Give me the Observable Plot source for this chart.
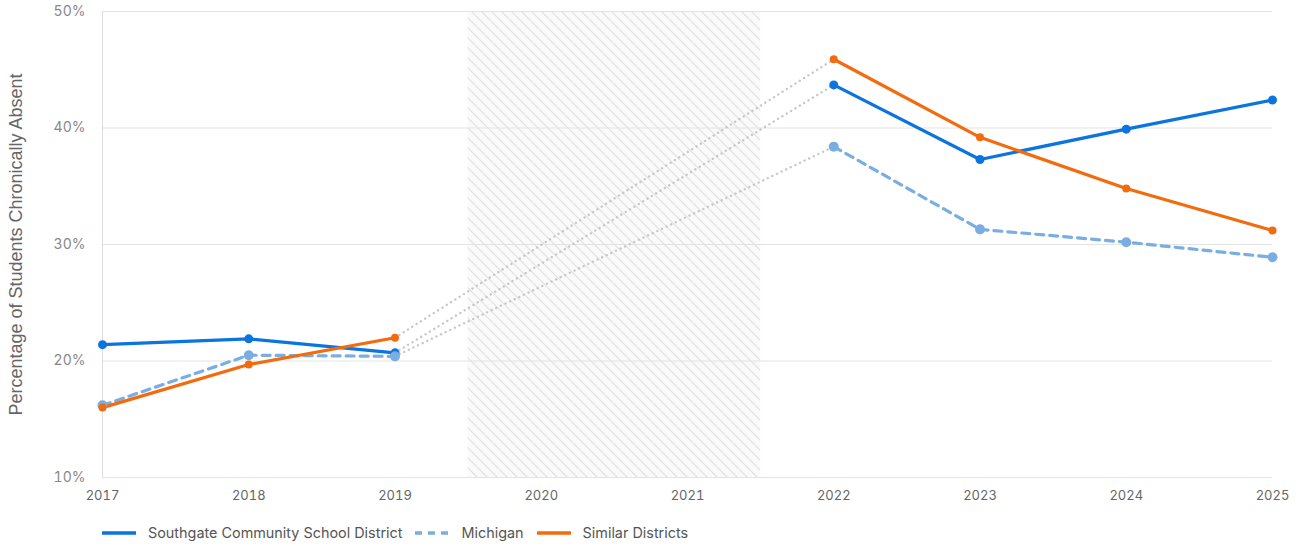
<!DOCTYPE html>
<html>
<head>
<meta charset="utf-8">
<script src="https://cdn.jsdelivr.net/npm/d3@7"></script>
<script src="https://cdn.jsdelivr.net/npm/@observablehq/plot@0.6"></script>
<style>
  body { margin: 0; background: #fff; font-family: Inter, "Noto Sans", sans-serif; }
  #legend { display: flex; align-items: center; margin-left: 102px; margin-top: 14px; font-size: 14.4px; color: #555; }
  .item { display: flex; align-items: center; margin-right: 13px; }
  .item svg { margin-right: 12px; }
</style>
</head>
<body>
<div id="chart"></div>
<div id="legend"></div>
<script>
const years = [2017, 2018, 2019, 2022, 2023, 2024, 2025];
const southgate = [21.4, 21.9, 20.7, 43.7, 37.3, 39.9, 42.4];
const michigan = [16.2, 20.5, 20.4, 38.4, 31.3, 30.2, 28.9];
const similar = [16.0, 19.7, 22.0, 45.9, 39.2, 34.8, 31.2];
const xTicks = [2017, 2018, 2019, 2020, 2021, 2022, 2023, 2024, 2025];
const yTicks = [10, 20, 30, 40, 50];
const yLabel = "Percentage of Students Chronically Absent";
const gapStart = 2019.5, gapEnd = 2021.5;

const seriesDefs = [
  {name: "Southgate Community School District", values: southgate, color: "#0b74de", dash: null, r: 4.5},
  {name: "Michigan", values: michigan, color: "#7aaee2", dash: "8,6", r: 5},
  {name: "Similar Districts", values: similar, color: "#f26b0f", dash: null, r: 4}
];

const rows = [];
seriesDefs.forEach(s => years.forEach((y, i) => rows.push({series: s.name, year: y, value: s.values[i], period: y <= 2019 ? "pre" : "post"})));
const connectors = [];
seriesDefs.forEach(s => {
  const i1 = years.indexOf(2019), i2 = years.indexOf(2022);
  connectors.push({series: s.name, year: 2019, value: s.values[i1]});
  connectors.push({series: s.name, year: 2022, value: s.values[i2]});
});

const marks = [
  Plot.rect([{x1: gapStart, x2: gapEnd}], {x1: "x1", x2: "x2", y1: 10, y2: 50, fill: "url(#hatch)"}),
  Plot.gridY(yTicks, {stroke: "#e3e3e3", strokeOpacity: 1, strokeWidth: 1}),
  Plot.ruleX([2017], {stroke: "#dedede", strokeWidth: 1}),
  Plot.line(connectors, {x: "year", y: "value", z: "series", stroke: "#c8c8c8", strokeWidth: 2.4, strokeDasharray: "0.1,5", strokeLinecap: "round"})
];
seriesDefs.forEach(s => {
  const data = rows.filter(d => d.series === s.name);
  marks.push(Plot.line(data, {x: "year", y: "value", z: "period", stroke: s.color, strokeWidth: 3.2, strokeDasharray: s.dash, strokeLinejoin: "round"}));
});
seriesDefs.forEach(s => {
  const data = rows.filter(d => d.series === s.name);
  marks.push(Plot.dot(data, {x: "year", y: "value", r: s.r, fill: s.color, stroke: "none"}));
});
marks.push(Plot.axisY(yTicks, {tickSize: 0, tickPadding: 17, tickFormat: d => d + "%", fontSize: 14, color: "#888", label: null}));
marks.push(Plot.text([yLabel], {text: d => d, frameAnchor: "left", textAnchor: "middle", lineAnchor: "middle", rotate: -90, dx: -86, fontSize: 18,
  fontFamily: "'Liberation Sans', Arial, sans-serif", fill: "#666"}));
marks.push(Plot.axisX(xTicks, {tickSize: 0, tickPadding: 13, tickFormat: d => String(d), fontSize: 13, color: "#666", label: null}));

const svg = Plot.plot({
  width: 1301,
  height: 510,
  marginLeft: 102,
  marginRight: 29,
  marginTop: 11,
  marginBottom: 33,
  style: {fontFamily: "Inter, 'Noto Sans', sans-serif", color: "#666", background: "#fff", overflow: "visible"},
  x: {domain: [2017, 2025]},
  y: {domain: [10, 50]},
  marks
});

// hatch pattern definition
const ns = "http://www.w3.org/2000/svg";
const defs = document.createElementNS(ns, "defs");
defs.innerHTML = `<pattern id="hatch" patternUnits="userSpaceOnUse" width="10" height="10">
  <rect width="10" height="10" fill="#fafafa"></rect>
  <path d="M-1,-1 L11,11 M-1,9 L1,11 M9,-1 L11,1" stroke="#e0e0e0" stroke-width="1.1"></path>
</pattern>`;
svg.insertBefore(defs, svg.firstChild);
document.getElementById("chart").appendChild(svg);

// Legend
const legend = document.getElementById("legend");
seriesDefs.forEach(s => {
  const item = document.createElement("div");
  item.className = "item";
  item.innerHTML = `<svg width="34" height="6"><line x1="0" y1="3" x2="34" y2="3" stroke="${s.color}" stroke-width="3.5" ${s.dash ? 'stroke-dasharray="7,6"' : ''}></line></svg><span>${s.name}</span>`;
  legend.appendChild(item);
});
</script>
</body>
</html>
